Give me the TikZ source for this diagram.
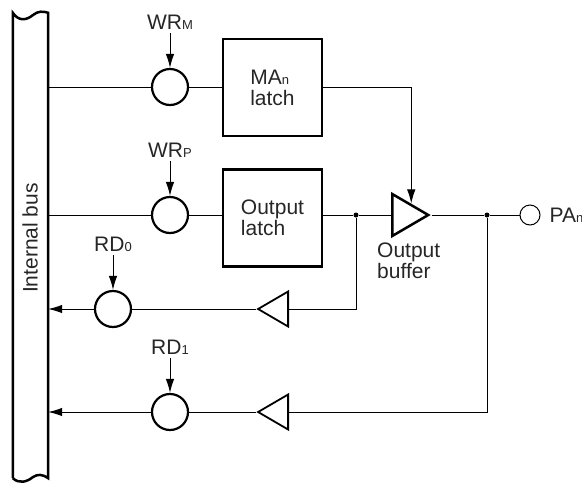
\documentclass[tikz,border=0pt]{standalone}
\usepackage{fontspec}
\setmainfont{Liberation Sans}
\usetikzlibrary{arrows.meta,positioning,shapes.geometric,calc}
\newcommand{\lbl}[1]{{\fontsize{13}{13}\selectfont #1}}
\begin{document}
\begin{tikzpicture}[x=1pt,y=-1pt,font=\fontsize{21}{21}\selectfont,text=black!85,
latchbox/.style={draw,line width=2.5pt,minimum width=99pt,minimum height=97pt,align=left,inner sep=0pt},
sw/.style={draw,circle,line width=2.2pt,minimum size=36pt,inner sep=0pt},
pad/.style={draw,circle,line width=1pt,minimum size=20pt,inner sep=0pt},
buf/.style={draw,isosceles triangle,isosceles triangle stretches,inner sep=0pt,anchor=lower side},
ctl/.style={inner sep=0pt,minimum height=21pt},
wire/.style={line width=1pt},
arr/.style={wire,-{Latex[length=14pt,width=8.5pt]}},
dot/.style={circle,fill=black,inner sep=0pt,minimum size=5pt}]
\useasboundingbox (0,0) rectangle (582,483);
% bus
\node[minimum width=35pt,minimum height=465pt,inner sep=0pt] (bus) at (30.5,245.5) {};
\node[rotate=90] (busname) at (30,238) {Internal bus};
\draw[line width=2.5pt] (bus.south west)--(bus.north west)
 .. controls (19,22) and (27,20) .. (33,15) .. controls (38,11) and (43,11) .. (bus.north east)
 --(bus.south east) .. controls (42,474) and (38,474) .. (33,477) .. controls (27,482) and (19,484) .. (bus.south west);
% switches
\node[sw] (swm) at (170,87) {};
\node[sw] (swp) at (170,215) {};
\node[sw] (swr0) at (113,309) {};
\node[sw] (swr1) at (170,412) {};
\node[ctl,above=35pt of swm] (wrm) {WR\lbl{M}};
\node[ctl,above=35pt of swp] (wrp) {WR\lbl{P}};
\node[ctl,above=35pt of swr0] (rd0) {RD\lbl{0}};
\node[ctl,above=35pt of swr1] (rd1) {RD\lbl{1}};
% latches
\node[latchbox] (malatch) at (272.5,87.5) {MA\lbl{n}\\latch};
\node[latchbox] (outlatch) at (272.5,218) {Output\\latch};
% buffers
\node[buf,line width=2.5pt,minimum height=36pt,minimum width=42pt] (outbuf) at (391,215) {};
\node[buf,line width=1.8pt,minimum height=30pt,minimum width=35pt,shape border rotate=180] (rbuf0) at (289,309) {};
\node[buf,line width=1.8pt,minimum height=30pt,minimum width=35pt,shape border rotate=180] (rbuf1) at (289,412) {};
\node[anchor=north west,align=left,inner sep=0pt] (bufname) at (377,243) {Output\\buffer};
% pin
\node[pad] (pin) at (530,215) {};
\node[right=9pt of pin,inner sep=0pt] (pinname) {PA\lbl{n}};
\node[dot] (j1) at (356,215) {};
\node[dot] (j2) at (487,215) {};
% wires
\draw[wire] (bus.east |- swm)--(swm);
\draw[wire] (swm)--(swm -| malatch.west);
\draw[arr] (malatch.east)-|(outbuf.left side);
\draw[wire] (bus.east |- swp)--(swp);
\draw[wire] (swp)--(swp -| outlatch.west);
\draw[wire] (swp -| outlatch.east)--(j1)--(outbuf.lower side);
\draw[wire] (outbuf.apex)--(j2)--(pin);
\draw[wire] (j1)|-(rbuf0.lower side);
\draw[wire] (rbuf0.apex)--(swr0);
\draw[arr] (swr0)--(bus.east |- swr0);
\draw[wire] (j2)|-(rbuf1.lower side);
\draw[wire] (rbuf1.apex)--(swr1);
\draw[arr] (swr1)--(bus.east |- swr1);
\draw[arr] (wrm)--(swm);
\draw[arr] (wrp)--(swp);
\draw[arr] (rd0)--(swr0);
\draw[arr] (rd1)--(swr1);
\end{tikzpicture}
\end{document}
